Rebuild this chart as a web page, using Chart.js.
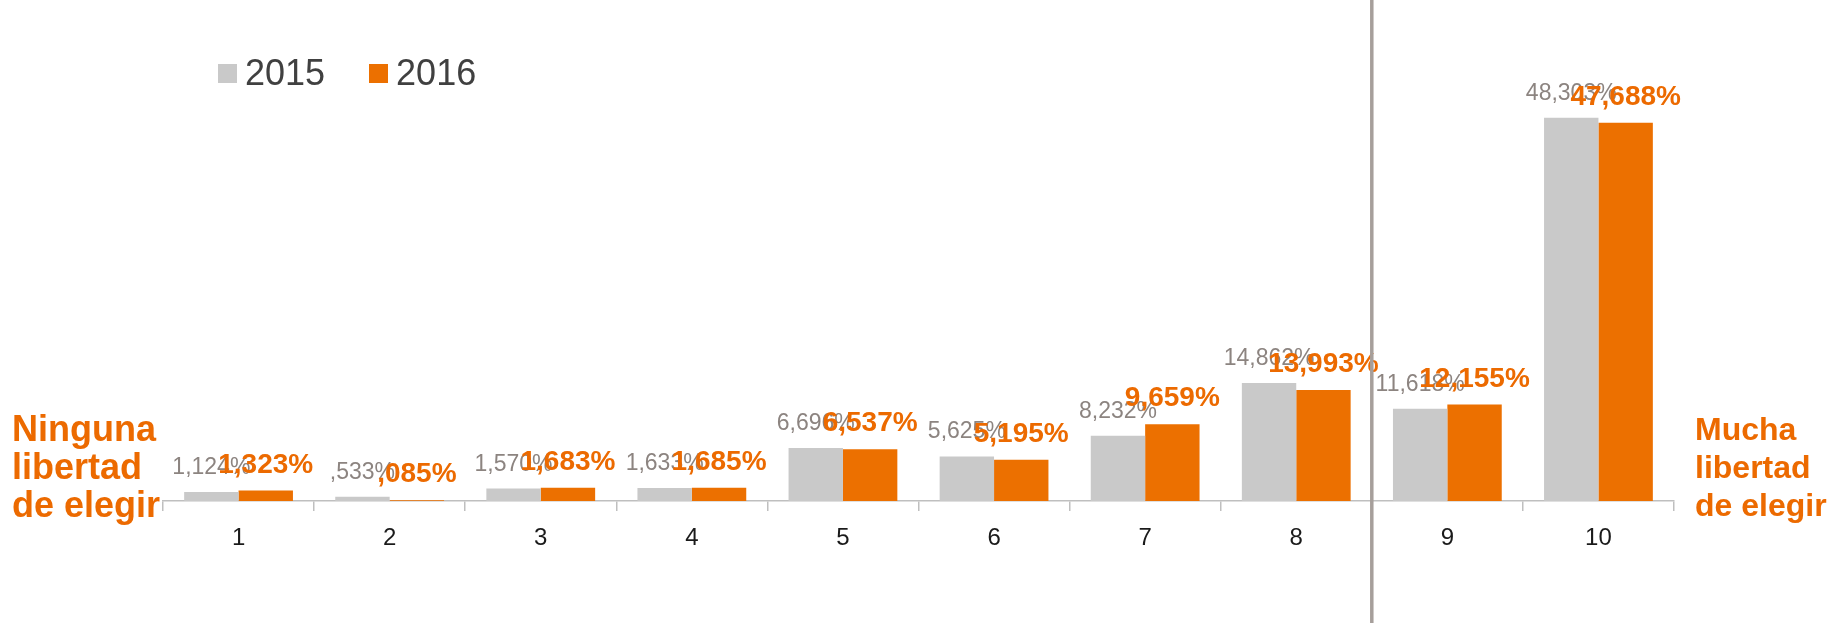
<!DOCTYPE html>
<html>
<head>
<meta charset="utf-8">
<script src="https://cdn.jsdelivr.net/npm/chart.js@4.4.0/dist/chart.umd.min.js"></script>
<style>
  body { margin: 0; background: #fff; font-family: "Liberation Sans", Arial, sans-serif; }
  #wrap { position: relative; width: 1837px; height: 623px; overflow: hidden; }
  .leyenda { position: absolute; left: 218px; top: 52px; display: flex; align-items: center; font-size: 36px; color: #404040; }
  .leyenda .sq { width: 19px; height: 19px; margin-right: 8px; }
  .leyenda .item { display: flex; align-items: center; margin-right: 44px; }
  .lado { position: absolute; font-weight: bold; color: #EC6A00; line-height: 38px; white-space: nowrap; }
</style>
</head>
<body>
<div id="wrap">
  <canvas id="grafico"></canvas>
  <div class="leyenda">
    <div class="item"><div class="sq" style="background:#C9C9C9"></div><span>2015</span></div>
    <div class="item"><div class="sq" style="background:#EC7000"></div><span>2016</span></div>
  </div>
  <div class="lado" style="left:12px; top:410px; font-size:36px;">Ninguna<br>libertad<br>de elegir</div>
  <div class="lado" style="left:1695px; top:410px; font-size:32px;">Mucha<br>libertad<br>de elegir</div>
</div>
<script>
var categorias = ['1', '2', '3', '4', '5', '6', '7', '8', '9', '10'];
var anios = ['2015', '2016'];
var valores2015 = [1.124, 0.533, 1.570, 1.633, 6.696, 5.625, 8.232, 14.862, 11.618, 48.303];
var valores2016 = [1.323, 0.085, 1.683, 1.685, 6.537, 5.195, 9.659, 13.993, 12.155, 47.688];

function etiqueta(v) {
  var s = v.toFixed(3).replace('.', ',');
  if (s.indexOf('0,') === 0) s = s.substring(1);
  return s + '%';
}

var estiloEtiquetas = [
  { font: '23px "Liberation Sans", Arial', color: '#8C8480' },
  { font: 'bold 28px "Liberation Sans", Arial', color: '#EC6A00' }
];

var etiquetasValor = {
  id: 'etiquetasValor',
  afterDatasetsDraw: function(chart) {
    var ctx = chart.ctx;
    chart.data.datasets.forEach(function(ds, i) {
      var meta = chart.getDatasetMeta(i);
      ctx.save();
      ctx.font = estiloEtiquetas[i].font;
      ctx.fillStyle = estiloEtiquetas[i].color;
      ctx.textAlign = 'center';
      ctx.textBaseline = 'alphabetic';
      meta.data.forEach(function(bar, j) {
        ctx.fillText(etiqueta(ds.data[j]), bar.x, bar.y - 18);
      });
      ctx.restore();
    });
  }
};

var divisor = {
  id: 'divisor',
  afterDraw: function(chart) {
    var x = chart.scales.x;
    var px = (x.getPixelForValue(7) + x.getPixelForValue(8)) / 2;
    var ctx = chart.ctx;
    ctx.save();
    ctx.strokeStyle = '#A69F9B';
    ctx.lineWidth = 3.5;
    ctx.beginPath();
    ctx.moveTo(px, 0);
    ctx.lineTo(px, chart.height);
    ctx.stroke();
    ctx.restore();
  }
};

new Chart(document.getElementById('grafico'), {
  type: 'bar',
  data: {
    labels: categorias,
    datasets: [
      { label: anios[0], data: valores2015, backgroundColor: '#C9C9C9', categoryPercentage: 0.72, barPercentage: 1 },
      { label: anios[1], data: valores2016, backgroundColor: '#EC7000', categoryPercentage: 0.72, barPercentage: 1 }
    ]
  },
  options: {
    responsive: true,
    maintainAspectRatio: false,
    animation: false,
    layout: { padding: { left: 163, right: 163, top: 25, bottom: 0 } },
    plugins: { legend: { display: false }, tooltip: { enabled: false } },
    scales: {
      x: {
        afterFit: function(scale) { scale.height = 122; },
        grid: { offset: true, drawOnChartArea: false, drawTicks: true, tickLength: 10, color: '#BFBFBF', lineWidth: 1.5 },
        border: { color: '#BFBFBF', width: 1.5 },
        ticks: { color: '#1A1A1A', font: { size: 24, family: '"Liberation Sans", Arial' }, padding: 13 }
      },
      y: { display: false, min: 0, max: 60 }
    }
  },
  plugins: [etiquetasValor, divisor]
});
</script>
</body>
</html>
